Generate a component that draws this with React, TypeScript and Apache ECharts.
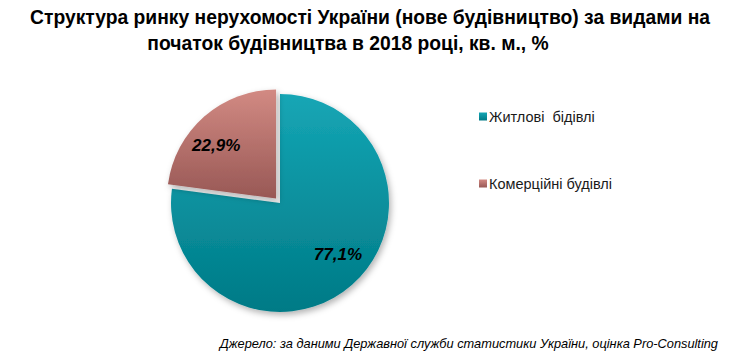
import React, { useEffect, useRef } from "react";
import * as echarts from "echarts";

const titleLines = [
  "Структура ринку нерухомості України (нове будівництво) за видами на",
  "початок будівництва в 2018 році, кв. м., %",
];
const categories = ["Житлові  бідівлі", "Комерційні будівлі"];
const values = [77.1, 22.9];
const sourceText = "Джерело: за даними Державної служби статистики України, оцінка Pro-Consulting";

const gradients = [
  ["#15a6b5", "#007a86"],
  ["#d28a83", "#985855"],
];
const labelShift = [
  [20, 8],
  [-22, -10],
];

export default function App() {
  const ref = useRef<HTMLDivElement>(null);
  useEffect(() => {
    if (!ref.current) return;
    const chart = echarts.init(ref.current, undefined, { renderer: "svg" });
    const data = categories.map((name, i) => ({
      name,
      value: values[i],
      selected: i === 1,
      itemStyle: {
        color: new echarts.graphic.LinearGradient(0, 0, 0, 1, [
          { offset: 0, color: gradients[i][0] },
          { offset: 1, color: gradients[i][1] },
        ]),
      },
    }));
    const font = "Liberation Sans, Arial, sans-serif";
    chart.setOption({
      animation: false,
      backgroundColor: "#ffffff",
      graphic: [
        {
          type: "text",
          x: 370,
          y: 17,
          style: {
            text: titleLines[0],
            fontFamily: font,
            fontWeight: "bold",
            fontSize: 19.3,
            fill: "#000",
            align: "center",
            verticalAlign: "middle",
          },
        },
        {
          type: "text",
          x: 348,
          y: 43,
          style: {
            text: titleLines[1],
            fontFamily: font,
            fontWeight: "bold",
            fontSize: 19.3,
            fill: "#000",
            align: "center",
            verticalAlign: "middle",
          },
        },
        {
          type: "text",
          x: 718,
          y: 343,
          style: {
            text: sourceText,
            fontFamily: font,
            fontStyle: "italic",
            fontSize: 12.8,
            fill: "#000",
            align: "right",
            verticalAlign: "middle",
          },
        },
      ],
      legend: {
        orient: "vertical",
        left: 474,
        top: 104,
        itemWidth: 8,
        itemHeight: 8,
        itemGap: 52,
        icon: "rect",
        selectedMode: false,
        data: categories,
        textStyle: {
          fontFamily: font,
          fontSize: 14.5,
          color: "#1a1a1a",
          padding: [0, 0, 0, -3],
        },
      },
      series: [
        {
          type: "pie",
          center: [280, 203],
          radius: 109,
          startAngle: 90,
          clockwise: true,
          selectedMode: "single",
          selectedOffset: 6,
          avoidLabelOverlap: false,
          itemStyle: {
            shadowBlur: 6,
            shadowOffsetX: 2,
            shadowOffsetY: 3,
            shadowColor: "rgba(0,0,0,0.3)",
          },
          emphasis: { disabled: true },
          label: {
            show: true,
            position: "inside",
            fontFamily: font,
            fontWeight: "bold",
            fontStyle: "italic",
            fontSize: 17,
            color: "#000",
            formatter: (p: any) => `${Number(p.value).toFixed(1).replace(".", ",")}%`,
          },
          labelLayout: (p: any) => ({
            dx: labelShift[p.dataIndex][0],
            dy: labelShift[p.dataIndex][1],
          }),
          labelLine: { show: false },
          data,
        },
      ],
    });
    return () => chart.dispose();
  }, []);
  return (
    <div
      ref={ref}
      style={{ position: "fixed", left: 0, top: 0, width: 740, height: 353 }}
    />
  );
}
